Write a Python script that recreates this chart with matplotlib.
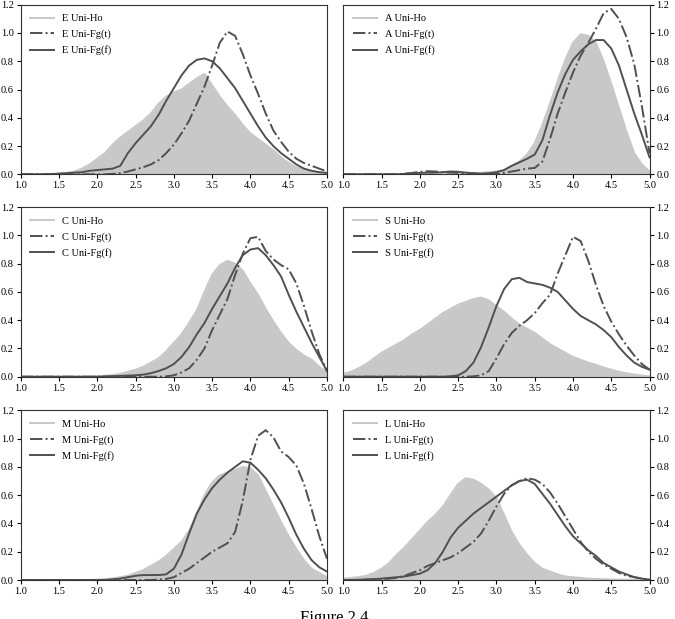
import numpy as np
import matplotlib
matplotlib.use('Agg')
import matplotlib.pyplot as plt

plt.rcParams['font.family'] = ['Liberation Serif', 'DejaVu Serif']

# common grid of scores (1.0 .. 5.0, step 0.1)
x = np.round(np.arange(1.0, 5.01, 0.1), 1)

# values, one list per curve
e_ho = [0, 0, 0, 0, 0, 0.005, 0.01, 0.02, 0.04, 0.07,
        0.11, 0.15, 0.21, 0.26, 0.30, 0.34, 0.38, 0.43, 0.50, 0.55,
        0.58, 0.60, 0.64, 0.68, 0.71, 0.63, 0.55, 0.48, 0.42, 0.35,
        0.29, 0.25, 0.21, 0.17, 0.12, 0.08, 0.05, 0.03, 0.02, 0.01, 0.005]
e_ft = [0, 0, 0, 0, 0, 0, 0, 0, 0, 0,
        0, 0, 0.003, 0.008, 0.02, 0.035, 0.05, 0.07, 0.10, 0.15,
        0.21, 0.29, 0.38, 0.50, 0.62, 0.77, 0.93, 1.01, 0.98, 0.85,
        0.70, 0.57, 0.43, 0.31, 0.23, 0.16, 0.11, 0.08, 0.06, 0.04, 0.02]
e_ff = [0, 0, 0, 0, 0.002, 0.005, 0.008, 0.012, 0.015, 0.025,
        0.03, 0.035, 0.04, 0.06, 0.15, 0.22, 0.28, 0.34, 0.42, 0.52,
        0.61, 0.70, 0.77, 0.81, 0.82, 0.80, 0.75, 0.68, 0.61, 0.52,
        0.43, 0.34, 0.26, 0.20, 0.15, 0.11, 0.07, 0.04, 0.025, 0.015, 0.01]

a_ho = [0, 0, 0, 0, 0, 0, 0, 0, 0, 0,
        0, 0, 0, 0, 0, 0, 0, 0.005, 0.01, 0.015,
        0.02, 0.03, 0.06, 0.09, 0.14, 0.22, 0.35, 0.50, 0.66, 0.81,
        0.93, 0.99, 0.98, 0.93, 0.80, 0.64, 0.47, 0.30, 0.15, 0.07, 0.02]
a_ft = [0, 0, 0, 0, 0, 0, 0, 0, 0.005, 0.01,
        0.018, 0.022, 0.02, 0.015, 0.012, 0.01, 0.008, 0.005, 0.003, 0.002,
        0.003, 0.01, 0.02, 0.03, 0.04, 0.045, 0.09, 0.25, 0.43, 0.58,
        0.72, 0.84, 0.93, 1.03, 1.14, 1.17, 1.10, 0.97, 0.78, 0.48, 0.15]
a_ff = [0, 0, 0, 0, 0, 0, 0, 0, 0.003, 0.006,
        0.01, 0.012, 0.012, 0.015, 0.02, 0.018, 0.012, 0.008, 0.005, 0.008,
        0.015, 0.03, 0.06, 0.085, 0.11, 0.14, 0.24, 0.42, 0.58, 0.71,
        0.81, 0.87, 0.92, 0.95, 0.95, 0.89, 0.77, 0.60, 0.43, 0.28, 0.12]

c_ho = [0, 0, 0, 0, 0, 0, 0, 0, 0, 0,
        0.003, 0.006, 0.012, 0.02, 0.035, 0.05, 0.07, 0.10, 0.13, 0.18,
        0.24, 0.30, 0.38, 0.47, 0.60, 0.72, 0.79, 0.82, 0.80, 0.75,
        0.66, 0.58, 0.48, 0.39, 0.31, 0.24, 0.19, 0.15, 0.12, 0.07, 0.03]
c_ft = [0, 0, 0, 0, 0, 0, 0, 0, 0, 0,
        0, 0, 0, 0, 0, 0, 0, 0, 0, 0.003,
        0.01, 0.03, 0.06, 0.12, 0.20, 0.33, 0.44, 0.55, 0.72, 0.87,
        0.98, 0.99, 0.89, 0.83, 0.79, 0.76, 0.66, 0.50, 0.32, 0.16, 0.04]
c_ff = [0, 0, 0, 0, 0, 0, 0, 0, 0, 0,
        0, 0.002, 0.004, 0.006, 0.008, 0.01, 0.015, 0.025, 0.04, 0.06,
        0.09, 0.14, 0.21, 0.30, 0.38, 0.48, 0.57, 0.66, 0.77, 0.86,
        0.90, 0.91, 0.86, 0.79, 0.71, 0.58, 0.46, 0.35, 0.24, 0.14, 0.04]

s_ho = [0.02, 0.035, 0.06, 0.09, 0.13, 0.17, 0.20, 0.23, 0.26, 0.30,
        0.33, 0.37, 0.41, 0.45, 0.48, 0.51, 0.53, 0.55, 0.56, 0.54,
        0.50, 0.46, 0.41, 0.37, 0.34, 0.31, 0.27, 0.23, 0.20, 0.17,
        0.14, 0.12, 0.10, 0.085, 0.065, 0.05, 0.035, 0.025, 0.015, 0.008, 0.003]
s_ft = [0, 0, 0, 0, 0, 0, 0, 0, 0, 0,
        0, 0, 0, 0, 0, 0, 0, 0.003, 0.01, 0.04,
        0.13, 0.23, 0.31, 0.36, 0.40, 0.45, 0.52, 0.58, 0.73, 0.86,
        0.99, 0.96, 0.82, 0.65, 0.50, 0.39, 0.30, 0.22, 0.15, 0.09, 0.05]
s_ff = [0, 0, 0, 0, 0, 0, 0, 0, 0, 0,
        0, 0, 0, 0, 0.003, 0.01, 0.04, 0.10, 0.21, 0.35,
        0.50, 0.62, 0.69, 0.70, 0.67, 0.66, 0.65, 0.63, 0.60, 0.54,
        0.48, 0.43, 0.40, 0.37, 0.33, 0.28, 0.21, 0.15, 0.10, 0.07, 0.05]

m_ho = [0, 0, 0, 0, 0, 0, 0, 0, 0, 0,
        0.003, 0.006, 0.012, 0.02, 0.03, 0.05, 0.07, 0.10, 0.13, 0.17,
        0.22, 0.27, 0.35, 0.47, 0.60, 0.69, 0.74, 0.76, 0.78, 0.80,
        0.79, 0.74, 0.63, 0.52, 0.41, 0.31, 0.22, 0.14, 0.08, 0.05, 0.02]
m_ft = [0, 0, 0, 0, 0, 0, 0, 0, 0, 0,
        0, 0, 0, 0, 0, 0, 0, 0, 0.003, 0.008,
        0.02, 0.05, 0.08, 0.12, 0.16, 0.20, 0.23, 0.26, 0.34, 0.56,
        0.85, 1.02, 1.06, 1.01, 0.91, 0.87, 0.81, 0.68, 0.50, 0.31, 0.15]
m_ff = [0, 0, 0, 0, 0, 0, 0, 0, 0, 0,
        0, 0, 0.005, 0.01, 0.02, 0.03, 0.035, 0.035, 0.035, 0.04,
        0.08, 0.18, 0.33, 0.47, 0.57, 0.65, 0.71, 0.76, 0.80, 0.84,
        0.83, 0.78, 0.72, 0.64, 0.55, 0.44, 0.32, 0.22, 0.14, 0.09, 0.06]

l_ho = [0.01, 0.015, 0.02, 0.03, 0.05, 0.08, 0.12, 0.18, 0.23, 0.29,
        0.35, 0.41, 0.46, 0.52, 0.60, 0.68, 0.72, 0.71, 0.68, 0.64,
        0.58, 0.46, 0.34, 0.25, 0.18, 0.12, 0.08, 0.06, 0.04, 0.025,
        0.02, 0.015, 0.01, 0.008, 0.005, 0.004, 0.003, 0.002, 0.001, 0, 0]
l_ft = [0, 0, 0, 0.002, 0.004, 0.006, 0.01, 0.015, 0.03, 0.05,
        0.07, 0.10, 0.12, 0.14, 0.16, 0.19, 0.23, 0.27, 0.33, 0.42,
        0.52, 0.61, 0.67, 0.70, 0.72, 0.71, 0.68, 0.62, 0.54, 0.45,
        0.36, 0.27, 0.20, 0.15, 0.11, 0.08, 0.05, 0.03, 0.02, 0.01, 0.003]
l_ff = [0, 0, 0.002, 0.004, 0.006, 0.01, 0.015, 0.02, 0.025, 0.035,
        0.045, 0.07, 0.12, 0.20, 0.30, 0.37, 0.42, 0.47, 0.51, 0.55,
        0.59, 0.63, 0.67, 0.70, 0.71, 0.68, 0.61, 0.54, 0.46, 0.38,
        0.31, 0.26, 0.21, 0.17, 0.12, 0.09, 0.06, 0.04, 0.02, 0.01, 0.003]

panels = ['E', 'A', 'C', 'S', 'M', 'L']
ho_data = [e_ho, a_ho, c_ho, s_ho, m_ho, l_ho]
ft_data = [e_ft, a_ft, c_ft, s_ft, m_ft, l_ft]
ff_data = [e_ff, a_ff, c_ff, s_ff, m_ff, l_ff]

x_ticks = [1.0, 1.5, 2.0, 2.5, 3.0, 3.5, 4.0, 4.5, 5.0]
y_ticks = [0.0, 0.2, 0.4, 0.6, 0.8, 1.0, 1.2]

fill_col = '#c8c8c8'
line_col = '#505050'

fig = plt.figure(figsize=(6.75, 6.19), dpi=100)

lefts = [0.0307, 0.5086]
bottoms = [0.7184, 0.3914, 0.0630]
w, h = 0.4537, 0.274

for i, name in enumerate(panels):
    row, col = i // 2, i % 2
    ax = fig.add_axes([lefts[col], bottoms[row], w, h])

    ax.fill_between(x, ho_data[i], color=fill_col, lw=0)
    ax.plot(x, ho_data[i], color=fill_col, lw=1.4, label=f'{name} Uni-Ho')
    ax.plot(x, ft_data[i], color=line_col, lw=1.4, ls='-.', label=f'{name} Uni-Fg(t)')
    ax.plot(x, ff_data[i], color=line_col, lw=1.4, label=f'{name} Uni-Fg(f)')

    ax.set_xlim(1.0, 5.0)
    ax.set_ylim(0.0, 1.2)
    ax.set_xticks(x_ticks)
    ax.set_yticks(y_ticks)
    ax.set_xticklabels([f'{t:.1f}' for t in x_ticks])
    ax.set_yticklabels([f'{t:.1f}' for t in y_ticks])
    ax.tick_params(labelsize=7.5, length=3, width=0.8, pad=2, direction='out')
    if col == 1:
        ax.yaxis.tick_right()
    for sp in ax.spines.values():
        sp.set_color('#333333')
        sp.set_linewidth(0.8)

    ax.legend(loc='upper left', frameon=False, fontsize=7.5, handlelength=2.3,
              labelspacing=0.6, borderaxespad=0.5, handletextpad=0.8)

fig.text(0.495, 0.0145, 'Figure 2.4', ha='center', va='top', fontsize=12)

fig.savefig('out.png', dpi=100)
